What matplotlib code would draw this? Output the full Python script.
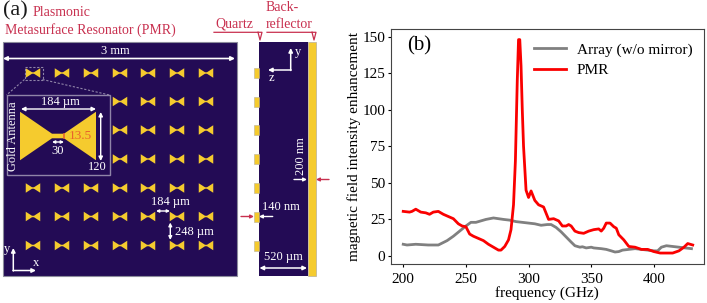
import matplotlib
matplotlib.use("Agg")
import matplotlib.pyplot as plt
from matplotlib.patches import Polygon, Rectangle

plt.rcParams['font.family'] = ['Liberation Serif', 'DejaVu Sans']

W = 707
H = 303
navy = '#230b55'
gold = '#f5cb2e'
crimson = '#c8304f'
lilac = '#8f84a8'
orange = '#e8642c'

# panel (b) curves
arrayFreq = [200, 203, 210, 220, 228, 235, 240, 245, 250, 254, 258, 262, 266, 272, 280, 285, 290, 295, 300, 305,
             310, 315, 318, 322, 326, 330, 334, 337, 341, 343, 346, 350, 352, 358, 362, 366, 369, 372, 375, 380,
             385, 390, 395, 400, 403, 406, 410, 415, 420, 425, 430]
arrayField = [8, 7.5, 8, 7.5, 7.5, 10.5, 13.5, 17, 20.5, 23, 23, 24, 25, 26, 25, 24.5, 23.5, 23, 22.5, 22,
              21, 21.5, 21.5, 19.5, 16.5, 13, 9.5, 7, 6, 6.3, 5.5, 6, 5.5, 5, 4.5, 3.5, 2.7, 3, 4, 4.5,
              5, 4.5, 4, 3.5, 3.5, 6, 7, 6.5, 6, 5.5, 5]
pmrFreq = [200, 205, 207, 210, 214, 218, 221, 224, 228, 232, 236, 240, 244, 247, 250, 253, 256, 260, 264, 268,
           272, 276, 278, 281, 284, 286, 288, 289.5, 291, 292, 293, 294, 295, 296, 298, 300, 302, 305, 308, 312,
           316, 320, 324, 327, 330, 332, 334, 337, 340, 344, 348, 352, 356, 358, 360, 362, 365, 368, 370, 372,
           376, 380, 385, 390, 395, 400, 405, 410, 415, 420, 424, 427, 431]
pmrField = [30.5, 30, 30.5, 32, 30, 29.5, 28.5, 30, 30.5, 28.5, 27, 25.5, 22, 20.5, 20, 15, 13.5, 12, 10.5, 8,
            6, 4, 4, 6.5, 11, 18, 35, 65, 120, 148, 148, 130, 100, 75, 45, 40, 44.5, 38, 35, 33.5,
            25, 25.5, 24, 20.5, 20.5, 21.5, 20.5, 17, 16, 15.5, 17, 18, 18.5, 17, 19, 22.5, 22.5, 20, 19, 14.5,
            11, 6.5, 6, 4.5, 4.5, 3, 2, 2, 2, 3.5, 6, 8.5, 7.5]
xTicks = [200, 250, 300, 350, 400]
yTicks = [0, 25, 50, 75, 100, 125, 150]

# panel (a) antenna grid, in picture pixels
antennaCols = [33, 62, 91, 120, 148, 177, 206]
antennaRows = [73, 101.5, 130, 159, 188, 216.5, 245.5]


def bowtie(ax, cx, cy, w, h, waistW, waistH, z=3):
    pts = [(cx - w / 2, cy - h / 2), (cx - waistW / 2, cy - waistH / 2), (cx + waistW / 2, cy - waistH / 2),
           (cx + w / 2, cy - h / 2), (cx + w / 2, cy + h / 2), (cx + waistW / 2, cy + waistH / 2),
           (cx - waistW / 2, cy + waistH / 2), (cx - w / 2, cy + h / 2)]
    ax.add_patch(Polygon(pts, closed=True, fc=gold, ec='none', zorder=z))


def arrow(ax, x0, y0, x1, y1, color='white', style='-|>', lw=1.0, scale=6, z=6):
    ax.annotate('', xy=(x1, y1), xytext=(x0, y0),
                arrowprops=dict(arrowstyle=style, color=color, lw=lw, mutation_scale=scale,
                                shrinkA=0, shrinkB=0), zorder=z)


def label(ax, x, y, s, size=9, color='white', ha='center', rotation=0):
    ax.text(x, y, s, fontsize=size, color=color, ha=ha, va='center', rotation=rotation, zorder=7)


fig = plt.figure(figsize=(W / 100, H / 100), dpi=100)

# schematic layer, one unit = one pixel
sk = fig.add_axes([0, 0, 1, 1])
sk.set_xlim(0, W)
sk.set_ylim(H, 0)
sk.axis('off')

sk.add_patch(Rectangle((2.5, 41.5), 234, 234.5, fc=navy, ec='#8c8c9c', lw=0.8, zorder=1))
for row in antennaRows:
    for col in antennaCols:
        bowtie(sk, col, row, 14.5, 9.5, 2, 1.5)

# dashed pick-out box and lines to the inset
sk.add_patch(Rectangle((24.5, 66.5), 18, 13, fc='none', ec=lilac, lw=0.8, ls=(0, (2, 1.5)), zorder=4))
sk.plot([24.5, 6.5], [79.5, 95], color=lilac, lw=0.8, ls=(0, (2, 1.5)), zorder=4)
sk.plot([42.5, 109.5], [79.5, 95], color=lilac, lw=0.8, ls=(0, (2, 1.5)), zorder=4)

# inset
sk.add_patch(Rectangle((6.5, 95), 103, 80, fc=navy, ec=lilac, lw=1.0, zorder=4))
bowtie(sk, 58, 136, 76, 48.5, 12, 4.6, z=5)
sk.plot([64, 64], [133.7, 138.3], color=orange, lw=1.2, zorder=6)
label(sk, 80.5, 136, '13.5', size=9.5, color=orange)
label(sk, 60, 102, '184 µm')
arrow(sk, 21, 109, 96, 109, style='<|-|>')
arrow(sk, 100.7, 112, 100.7, 161, style='<|-|>')
arrow(sk, 52, 142, 64, 142, style='<|-|>', scale=4)
label(sk, 58, 150.5, '30')
label(sk, 97.5, 167.5, '120')
label(sk, 13, 136.5, 'Gold Antenna', rotation=90)

# period marks
arrow(sk, 3, 58.5, 235, 58.5, style='<|-|>', lw=1.2)
label(sk, 115, 51, '3 mm')
arrow(sk, 156, 211, 170, 211, style='<|-|>', scale=4)
label(sk, 170.5, 202.5, '184 µm')
arrow(sk, 170.3, 222.5, 170.3, 240, style='<|-|>', scale=5)
label(sk, 194, 231.5, '248 µm')
arrow(sk, 13.3, 271, 13.3, 248, lw=1.1)
arrow(sk, 13, 270.5, 36, 270.5, lw=1.1)
label(sk, 7, 249, 'y')
label(sk, 36, 263, 'x')

# side view
for row in antennaRows:
    sk.add_patch(Rectangle((254, row - 5), 5, 10, fc=gold, ec='#b8b09a', lw=0.4, zorder=2))
sk.add_patch(Rectangle((259, 41.5), 48.5, 234.5, fc=navy, ec='none', zorder=1))
sk.add_patch(Rectangle((307.5, 41.5), 8.5, 234.5, fc=gold, ec='#b8b09a', lw=0.5, zorder=1))
arrow(sk, 290.7, 70.5, 290.7, 48, lw=1.1)
arrow(sk, 291.2, 70, 268, 70, lw=1.1)
label(sk, 297.7, 52, 'y')
label(sk, 271.7, 78, 'z')
label(sk, 300.7, 156, '200 nm', rotation=90)
arrow(sk, 294, 179.5, 307, 179.5, scale=5)
arrow(sk, 329, 179.5, 316, 179.5, color=crimson, scale=5)
label(sk, 281, 207.5, '140 nm')
arrow(sk, 272.7, 216.5, 259, 216.5, scale=5)
arrow(sk, 241, 216.5, 254, 216.5, color=crimson, scale=5)
label(sk, 283, 257, '520 µm')
arrow(sk, 259.5, 268, 307, 268, style='<|-|>', lw=1.1)

# headings above the schematic
sk.text(3, 11, '(a)', fontsize=16, color='#1a1a1a', ha='left', va='center')
label(sk, 33, 13, 'Plasmonic', size=10, color=crimson, ha='left')
label(sk, 5, 30.5, 'Metasurface Resonator (PMR)', size=10, color=crimson, ha='left')
label(sk, 215, 24.5, 'Quartz', size=10, color=crimson, ha='left')
label(sk, 266, 7.5, 'Back-', size=10, color=crimson, ha='left')
label(sk, 266, 25, 'reflector', size=10, color=crimson, ha='left')
sk.plot([214, 262, 260, 258], [32.3, 32.3, 40, 32.3], color=crimson, lw=0.9)
sk.plot([267, 316, 314, 312], [32.3, 32.3, 40, 32.3], color=crimson, lw=0.9)

# panel (b)
ax = fig.add_axes([390.7 / W, 1 - 264.3 / H, (704 - 390.7) / W, (264.3 - 28.5) / H])
ax.plot(arrayFreq, arrayField, color='#808080', lw=2.0, label='Array (w/o mirror)')
ax.plot(pmrFreq, pmrField, color='#fa0000', lw=2.0, label='PMR')
ax.set_xlim(190, 440)
ax.set_ylim(-5.7, 155.6)
ax.set_xticks(xTicks)
ax.set_yticks(yTicks)
ax.tick_params(labelsize=11, length=2, width=0.8)
ax.tick_params(axis='x', pad=4)
ax.tick_params(axis='y', pad=2)
ax.set_xlabel('frequency (GHz)', fontsize=11, labelpad=0)
ax.set_ylabel('magnetic field intensity enhancement', fontsize=11, labelpad=1)
ax.text(0.052, 0.926, '(b)', transform=ax.transAxes, fontsize=15, va='center')
ax.legend(loc='upper left', frameon=False, fontsize=11, handlelength=2.1, handletextpad=0.72, labelspacing=0.45,
          borderpad=0, borderaxespad=0, bbox_to_anchor=(0.457, 0.94))
for spine in ax.spines.values():
    spine.set_color('#444444')

fig.savefig('out.png', dpi=100)
